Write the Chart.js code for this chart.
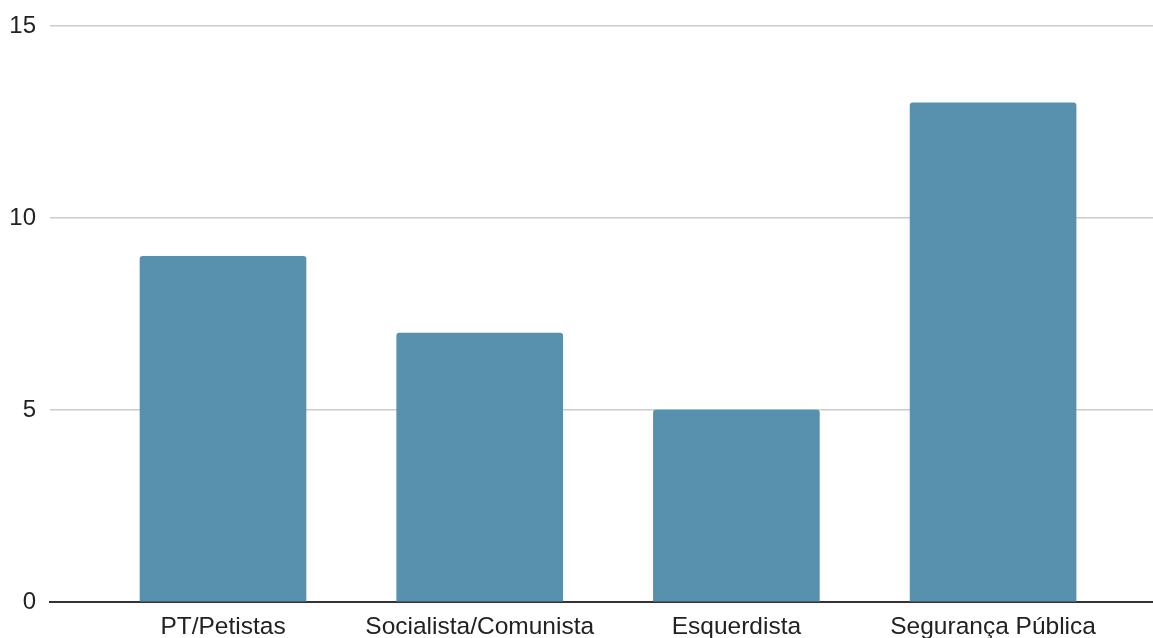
<!DOCTYPE html>
<html>
<head>
<meta charset="utf-8">
<script src="https://cdn.jsdelivr.net/npm/chart.js@4/dist/chart.umd.min.js"></script>
<style>
  html, body { margin: 0; padding: 0; background: #ffffff; }
  #wrap { width: 1153px; height: 638px; position: relative; }
</style>
</head>
<body>
<div id="wrap"><canvas id="c"></canvas></div>
<script>
const categories = ['PT/Petistas', 'Socialista/Comunista', 'Esquerdista', 'Segurança Pública'];
const values = [9, 7, 5, 13];
const yTicks = [0, 5, 10, 15];

const points = categories.map((c, i) => ({ x: i, y: values[i] }));
const FONT = "'Liberation Sans', Arial, sans-serif";

new Chart(document.getElementById('c'), {
  type: 'bar',
  data: {
    datasets: [{
      data: points,
      backgroundColor: '#5891ae',
      barThickness: 166,
      borderRadius: { topLeft: 3, topRight: 3, bottomLeft: 0, bottomRight: 0 },
      borderSkipped: false
    }]
  },
  options: {
    responsive: true,
    maintainAspectRatio: false,
    animation: false,
    events: [],
    layout: { padding: { top: 26, right: 0, bottom: 0, left: 0 } },
    plugins: { legend: { display: false }, tooltip: { enabled: false } },
    scales: {
      x: {
        type: 'linear',
        offset: false,
        min: -0.674,
        max: 3.623,
        afterBuildTicks: s => { s.ticks = categories.map((c, i) => ({ value: i })); },
        afterFit: s => { s.height = 36; s.paddingLeft = 0; s.paddingRight = 0; },
        ticks: {
          callback: v => categories[v] ?? '',
          color: '#222',
          font: { family: FONT, size: 24.5 },
          padding: 11,
          maxRotation: 0,
          autoSkip: false
        },
        grid: { display: false, drawTicks: false, offset: false },
        border: { display: true, color: '#333', width: 2 }
      },
      y: {
        min: 0,
        max: 15,
        afterBuildTicks: s => { s.ticks = yTicks.map(v => ({ value: v })); },
        afterFit: s => { s.width = 50; s.paddingTop = 0; s.paddingBottom = 0; },
        ticks: {
          color: '#222',
          font: { family: FONT, size: 24 },
          padding: 14
        },
        grid: {
          drawTicks: false,
          color: ctx => ctx.tick && ctx.tick.value === 0 ? 'rgba(0,0,0,0)' : '#cccccc',
          lineWidth: 1.5
        },
        border: { display: false }
      }
    }
  }
});
</script>
</body>
</html>
